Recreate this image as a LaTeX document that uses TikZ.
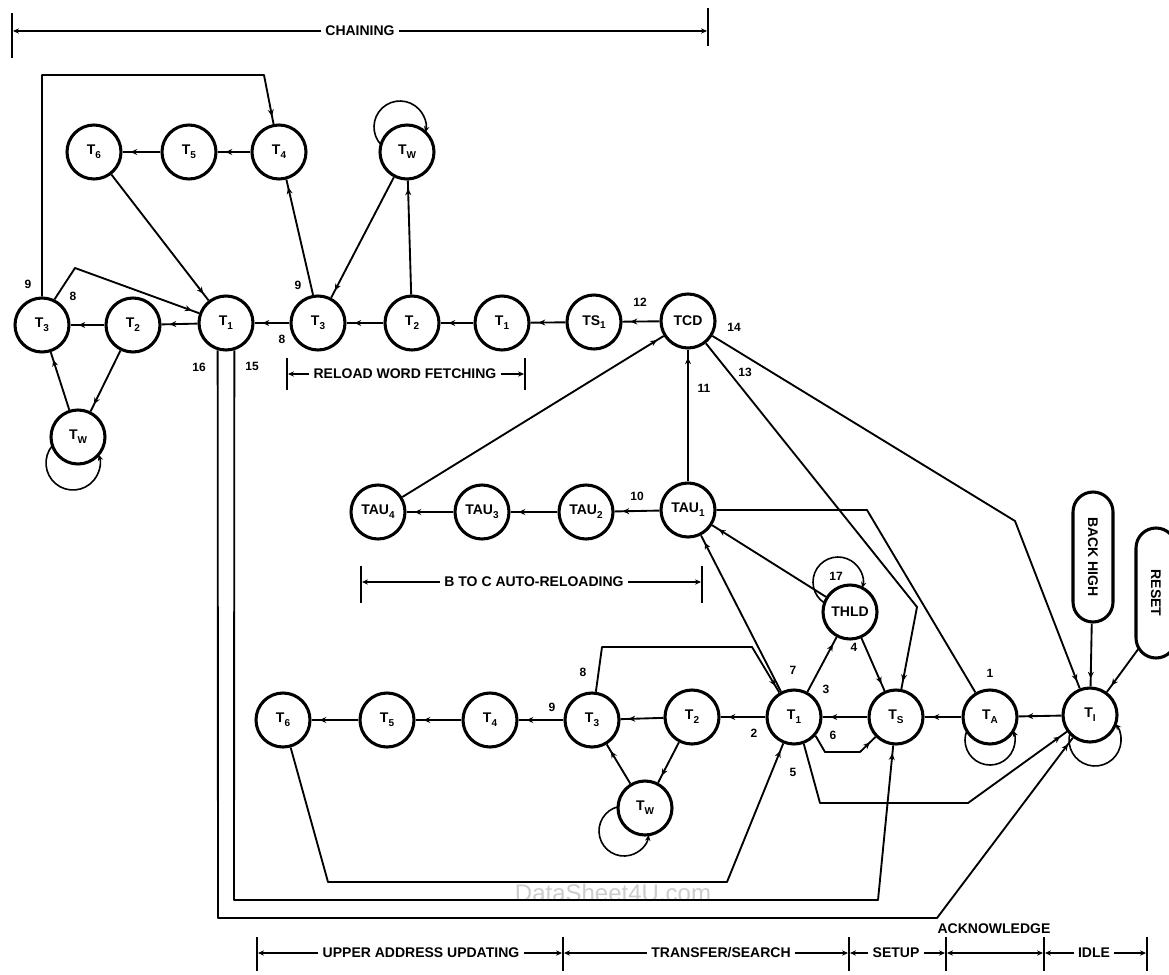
\documentclass[tikz,border=0pt]{standalone}
\usepackage{fontspec}
\setmainfont{Liberation Sans}
\usetikzlibrary{arrows.meta,decorations.markings,calc}
\newcommand\sbs[1]{\raisebox{-0.5ex}{\fontsize{7.5}{8}\selectfont #1}}
\begin{document}
\begin{tikzpicture}[x=0.75pt,y=-0.75pt,
 st/.style={circle,draw,fill=white,line width=2.3pt,minimum size=40.5pt,inner sep=0pt,font=\fontsize{10.5}{11}\selectfont\bfseries},
 ln/.style={line width=1.4pt,line join=round},
 ar/.style={ln,postaction={decorate},decoration={markings,mark=at position -6pt with {\arrow{Stealth[length=5pt,width=4.5pt]}}}},
 lp/.style={line width=1.2pt,-{Stealth[length=4.5pt,width=4pt]}},
 num/.style={font=\fontsize{9}{10}\selectfont\bfseries,inner sep=0pt},
 lab/.style={font=\fontsize{10.5}{12}\selectfont\bfseries,inner sep=3pt},
 bar/.style={line width=1.2pt},
 barr/.style={bar,-{Stealth[length=4.5pt,width=4pt]}},
 tk/.style={line width=1.6pt},
 pill/.style={draw,fill=white,line width=2.3pt,rounded corners=15pt,minimum width=97.5pt,minimum height=30pt,inner sep=0pt,rotate=-90,font=\fontsize{10.5}{12}\selectfont\bfseries},
 wm/.style={text=black!20,font=\fontsize{18}{20}\selectfont,inner sep=0pt}
]
\useasboundingbox (0,0) rectangle (1169,974);
\clip (0,0) rectangle (1169,974);
\node[wm] (wmk) at (613,893) {DataSheet4U.com};

% ---------- states ----------
\node[st] (a6) at (94,152) {T\sbs{6}};
\node[st] (a5) at (189,152) {T\sbs{5}};
\node[st] (a4) at (279,152) {T\sbs{4}};
\node[st] (aw) at (407,152) {T\sbs{W}};
\node[st] (a3L) at (42,325) {T\sbs{3}};
\node[st] (a2L) at (133,325) {T\sbs{2}};
\node[st] (a1L) at (226,323) {T\sbs{1}};
\node[st] (awL) at (78,437) {T\sbs{W}};
\node[st] (r3) at (318,323) {T\sbs{3}};
\node[st] (r2) at (412,323) {T\sbs{2}};
\node[st] (r1) at (502,323) {T\sbs{1}};
\node[st] (ts1) at (594,322) {TS\sbs{1}};
\node[st] (tcd) at (688,321) {TCD};
\node[st] (tau4) at (378,512) {TAU\sbs{4}};
\node[st] (tau3) at (482,512) {TAU\sbs{3}};
\node[st] (tau2) at (586,512) {TAU\sbs{2}};
\node[st] (tau1) at (688,510) {TAU\sbs{1}};
\node[st] (thld) at (850,612) {THLD};
\node[st] (b6) at (283,720) {T\sbs{6}};
\node[st] (b5) at (387,720) {T\sbs{5}};
\node[st] (b4) at (490,720) {T\sbs{4}};
\node[st] (b3) at (592,720) {T\sbs{3}};
\node[st] (b2) at (692,717) {T\sbs{2}};
\node[st] (b1) at (794,717) {T\sbs{1}};
\node[st] (ts) at (896,717) {T\sbs{S}};
\node[st] (ta) at (990,717) {T\sbs{A}};
\node[st] (ti) at (1090,715) {T\sbs{I}};
\node[st] (bw) at (645,808) {T\sbs{W}};
\node[pill] (bh) at (1093,557) {BACK HIGH};
\node[pill] (rs) at (1156,593) {RESET};
\coordinate (rsf) at (1139,648);

% ---------- self loops ----------
\draw[lp] (400,127) ++(137:26) arc[start angle=137,end angle=372,radius=26];
\draw[lp] (73,463) ++(220:27) arc[start angle=220,end angle=-18,radius=27];
\draw[lp] (624,831) ++(256:25) arc[start angle=256,end angle=9,radius=25];
\draw[lp] (838,582) ++(123:25) arc[start angle=123,end angle=374,radius=25];
\draw[lp] (990,740) ++(202:25) arc[start angle=202,end angle=-22,radius=25];
\draw[lp] (1095,740) ++(195:26) arc[start angle=195,end angle=-38,radius=26];

% ---------- chaining group ----------
\draw[ar] (a5) -- (a6);
\draw[ar] (a4) -- (a5);
\draw[ar] (a6) -- (a1L);
\draw[ar] (a3L.north) -- (42,75) -- (264,75) -- (a4);
\draw[ar] (a3L.64) -- (75,268) -- (a1L);
\draw[ar] (a2L) -- (a3L);
\draw[ar] (a1L) -- (a2L);
\draw[ar] (a2L) -- (awL);
\draw[ar] (awL) -- (a3L);
\draw[ar] (r3) -- (a1L);
\draw[ar] (r3.100) -- (a4.-75);
\draw[ar] (r2) -- (aw);
\draw[ar] (aw) -- (r3);
\draw[ar] (r2) -- (r3);
\draw[ar] (r1) -- (r2);
\draw[ar] (ts1) -- (r1);
\draw[ar] (tcd) -- (ts1);
\draw[ar] (tau1) -- (tcd);
\draw[ar] (tau4) -- (tcd);
\draw[ar] (tcd) -- (917,607) -- (ts);
\draw[ar] (tcd) -- (1015,521) -- (ti);
\draw[ar] (tau1) -- (tau2);
\draw[ar] (tau2) -- (tau3);
\draw[ar] (tau3) -- (tau4);
\draw[ln] (tau1) -- (867,510) -- (ta);

% ---------- bottom row ----------
\draw[ar] (ti) -- (ta);
\draw[ar] (ta) -- (ts);
\draw[ar] (ts) -- (b1);
\draw[ar] (b1) -- (b2);
\draw[ar] (b2) -- (b3);
\draw[ar] (b3) -- (b4);
\draw[ar] (b4) -- (b5);
\draw[ar] (b5) -- (b6);
\draw[ar] (b2) -- (bw);
\draw[ar] (bw) -- (b3);
\draw[ar] (b3) -- (602,647) -- (752,647) -- (b1);
\draw[ar] (b1) -- (tau1);
\draw[ar] (thld) -- (tau1);
\draw[ar] (b1) -- (thld);
\draw[ar] (thld) -- (ts);
\draw[ar] (b1.-41) -- (825,752) -- (860,752) -- (ts);
\draw[ar] (b1.-70) -- (820,803) -- (968,803) -- (ti);
\draw[ar] (b6) -- (328,882) -- (727,882) -- (b1);
\draw[ar] (a1L.-73) -- (234,900) -- (878,900) -- (ts);
\draw[ar] (a1L.-107) -- (218,918) -- (937,918) -- (ti);
\draw[ar] (bh) -- (ti);
\draw[ar] (rsf) -- (ti);

% ---------- numbers ----------
\node[num] (l9a) at (28,284) {9};
\node[num] (l8a) at (73,296) {8};
\node[num] (l9b) at (298,285) {9};
\node[num] (l8b) at (282,339) {8};
\node[num] (l16) at (199,367) {16};
\node[num] (l15) at (252,366) {15};
\node[num] (l12) at (640,302) {12};
\node[num] (l14) at (734,327) {14};
\node[num] (l13) at (745,372) {13};
\node[num] (l11) at (704,388) {11};
\node[num] (l10) at (637,496) {10};
\node[num] (l17) at (836,576) {17};
\node[num] (l7) at (793,670) {7};
\node[num] (l3) at (826,689) {3};
\node[num] (l4) at (854,647) {4};
\node[num] (l1) at (990,673) {1};
\node[num] (l6) at (833,735) {6};
\node[num] (l2) at (754,733) {2};
\node[num] (l5) at (793,772) {5};
\node[num] (l9c) at (552,707) {9};
\node[num] (l8c) at (583,672) {8};

% ---------- phase bars ----------
\node[lab] (chn) at (360,31) {CHAINING};
\draw[tk] (12,13) -- (12,58);
\draw[tk] (708,8) -- (708,46);
\draw[barr] (chn.west) -- (13,31);
\draw[barr] (chn.east) -- (707,31);

\node[lab] (rwf) at (405,374) {RELOAD WORD FETCHING};
\draw[tk] (287,358) -- (287,390);
\draw[tk] (525,358) -- (525,390);
\draw[barr] (rwf.west) -- (288,374);
\draw[barr] (rwf.east) -- (524,374);

\node[lab] (btc) at (534,582) {B TO C AUTO-RELOADING};
\draw[tk] (361,566) -- (361,603);
\draw[tk] (702,566) -- (702,603);
\draw[barr] (btc.west) -- (362,582);
\draw[barr] (btc.east) -- (701,582);

\node[lab] (ack) at (994,929) {ACKNOWLEDGE};
\node[lab] (uau) at (421,953) {UPPER ADDRESS UPDATING};
\node[lab] (tfs) at (721,953) {TRANSFER/SEARCH};
\node[lab] (stp) at (896,953) {SETUP};
\node[lab] (idl) at (1094,953) {IDLE};
\foreach \t in {257,563,849,946,1044,1147} \draw[tk] (\t,937) -- (\t,971);
\draw[barr] (uau.west) -- (258,953);
\draw[barr] (uau.east) -- (562,953);
\draw[barr] (tfs.west) -- (564,953);
\draw[barr] (tfs.east) -- (848,953);
\draw[barr] (stp.west) -- (850,953);
\draw[barr] (stp.east) -- (945,953);
\draw[bar,{Stealth[length=4.5pt,width=4pt]}-{Stealth[length=4.5pt,width=4pt]}] (947,953) -- (1043,953);
\draw[barr] (idl.west) -- (1045,953);
\draw[barr] (idl.east) -- (1146,953);
\end{tikzpicture}
\end{document}
